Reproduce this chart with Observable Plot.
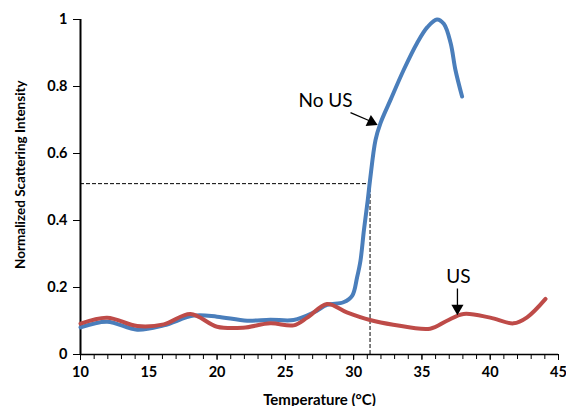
<!DOCTYPE html>
<html><head><meta charset="utf-8">
<script src="https://cdn.jsdelivr.net/npm/d3@7"></script>
<script src="https://cdn.jsdelivr.net/npm/@observablehq/plot@0.6"></script>
<style>body{margin:0;background:#fff;} svg{display:block;}</style>
</head><body><div id="chart"></div>
<script>
// No US (blue)
const noUsTemp = [10, 11.95, 14.15, 16.1, 18.3, 20, 22.2, 23.9, 25.6, 27.1, 28.05, 29.25, 29.9, 30.25, 30.5, 30.75, 31.03, 31.2, 31.6, 31.96, 32.7, 33.67, 34.65, 35.4, 36.1, 36.6, 37.1, 37.45, 37.94];
const noUsVal  = [0.081, 0.098, 0.074, 0.087, 0.116, 0.113, 0.101, 0.104, 0.103, 0.126, 0.148, 0.156, 0.176, 0.23, 0.28, 0.37, 0.46, 0.52, 0.64, 0.69, 0.76, 0.85, 0.93, 0.977, 1.0, 0.987, 0.93, 0.85, 0.77];
// US (red)
const usTemp = [10, 11.95, 14.15, 16.1, 18.05, 20, 21.9, 23.9, 25.6, 26.6, 28.05, 29.5, 31.2, 32.9, 35.6, 36.8, 38.05, 40, 41.7, 42.7, 44.05];
const usVal  = [0.092, 0.110, 0.085, 0.090, 0.121, 0.083, 0.080, 0.093, 0.087, 0.110, 0.151, 0.126, 0.103, 0.089, 0.077, 0.100, 0.121, 0.110, 0.093, 0.111, 0.166];
// guide point
const guideT = 31.2, guideV = 0.51;
const xMajor = [10, 15, 20, 25, 30, 35, 40, 45];
const yTicks = [0, 0.2, 0.4, 0.6, 0.8, 1];
// annotations
const labels = [
  {t: 27.94, v: 0.758, s: "No US"},
  {t: 37.67, v: 0.233, s: "US"}
];
const arrows = [
  {x1: 29.77, y1: 0.722, x2: 31.2, y2: 0.697, hx: 31.3, hy: 0.694, rot: 115.6},
  {x1: 37.6, y1: 0.197, x2: 37.6, y2: 0.145, hx: 37.6, hy: 0.138, rot: 180}
];

const noUs = noUsTemp.map((t, i) => ({t, v: noUsVal[i]}));
const us = usTemp.map((t, i) => ({t, v: usVal[i]}));

const font = "Lato, 'Open Sans', sans-serif";
const chart = Plot.plot({
  width: 566, height: 406,
  marginLeft: 80, marginRight: 8, marginTop: 19, marginBottom: 52,
  style: {fontFamily: font, background: "#fff", overflow: "visible"},
  x: {domain: [10, 45]},
  y: {domain: [0, 1]},
  marks: [
    Plot.axisX({ticks: d3.range(10, 46, 1), tickFormat: () => "", tickSize: 5, stroke: "#000", label: null}),
    Plot.axisX({ticks: xMajor, tickSize: 6, tickPadding: 6, fontSize: 14.5, fontWeight: "bold", fill: "#000", label: null}),
    Plot.axisY({ticks: yTicks, tickFormat: d => String(d), tickSize: 7, tickPadding: 6, fontSize: 14.5, fontWeight: "bold", fill: "#000", label: null}),
    Plot.ruleY([0], {stroke: "#000", strokeWidth: 1.5}),
    Plot.ruleX([10], {stroke: "#000", strokeWidth: 2}),
    Plot.ruleY([guideV], {x1: 10, x2: guideT, stroke: "#000", strokeDasharray: "4,2", strokeWidth: 1}),
    Plot.ruleX([guideT], {y1: 0, y2: guideV, stroke: "#000", strokeDasharray: "4,2", strokeWidth: 1}),
    Plot.line(noUs, {x: "t", y: "v", stroke: "#4a7ebb", strokeWidth: 4, curve: "catmull-rom"}),
    Plot.line(us, {x: "t", y: "v", stroke: "#be4b48", strokeWidth: 4, curve: "catmull-rom"}),
    Plot.text(labels, {x: "t", y: "v", text: "s", fontSize: 19, fill: "#000"}),
    Plot.link(arrows, {x1: "x1", y1: "y1", x2: "x2", y2: "y2", stroke: "#000", strokeWidth: 1.3}),
    Plot.dot(arrows, {x: "hx", y: "hy", symbol: "triangle", r: 4.5, fill: "#000", stroke: "none", rotate: "rot"}),
    Plot.text(["Temperature (°C)"], {frameAnchor: "bottom", dy: 50, fontSize: 15, fontWeight: "bold", fill: "#000"}),
    Plot.text(["Normalized Scattering Intensity"], {x: () => 10, y: () => 0.537, dx: -60, rotate: -90, fontSize: 13.5, fontWeight: "bold", fill: "#000"})
  ]
});
document.getElementById("chart").appendChild(chart);
</script>
</body></html>
